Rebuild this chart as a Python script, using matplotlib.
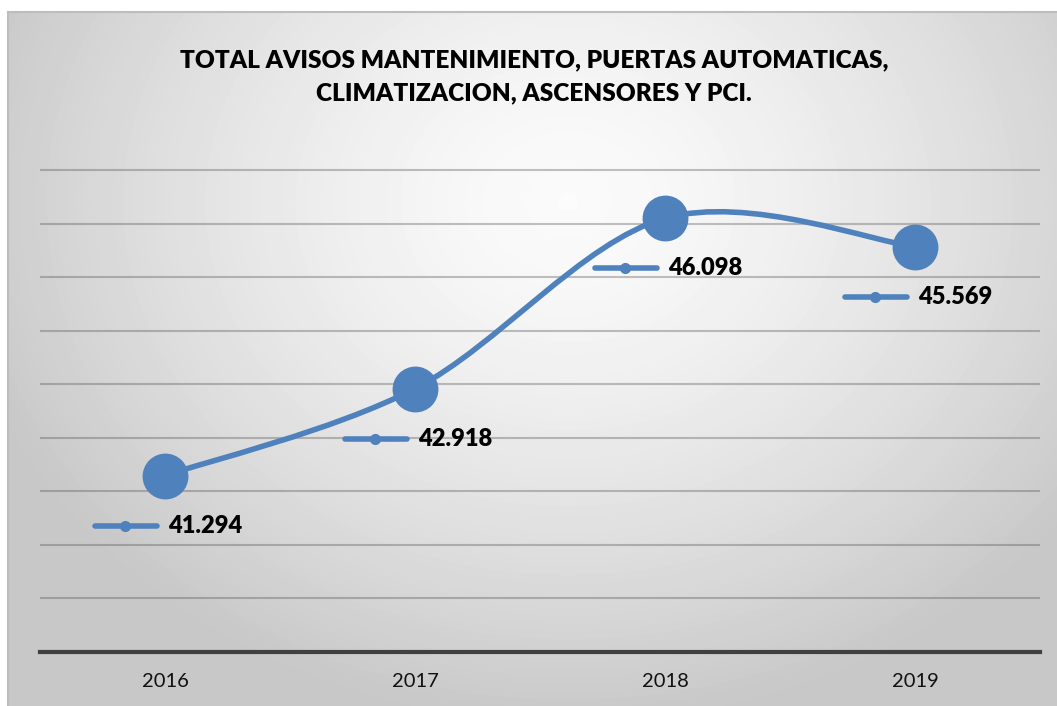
import matplotlib
matplotlib.use("Agg")
import matplotlib.pyplot as plt
import matplotlib.transforms as mtransforms
from matplotlib.path import Path
from matplotlib.patches import PathPatch
import numpy as np

plt.rcParams["font.family"] = ["Lato", "DejaVu Sans"]

# Chart data
YEARS = ["2016", "2017", "2018", "2019"]
AVISOS = [41294, 42918, 46098, 45569]
VALUE_LABELS = ["41.294", "42.918", "46.098", "45.569"]
TITLE = "TOTAL AVISOS MANTENIMIENTO, PUERTAS AUTOMATICAS,\nCLIMATIZACION, ASCENSORES Y PCI."
Y_MIN, Y_MAX, Y_STEP = 38000, 47000, 1000

BLUE = "#4f81bd"
W, H = 1057, 706


def smooth_path(xs, ys):
    """Excel-like smoothed line: one cubic Bezier per segment."""
    pts = list(zip(xs, ys))
    ext = [pts[0]] + pts + [pts[-1]]
    verts = [pts[0]]
    codes = [Path.MOVETO]
    for i in range(1, len(ext) - 2):
        p0, p1, p2, p3 = ext[i - 1], ext[i], ext[i + 1], ext[i + 2]
        c1 = (p1[0] + (p2[0] - p0[0]) / 6, p1[1] + (p2[1] - p0[1]) / 6)
        c2 = (p2[0] - (p3[0] - p1[0]) / 6, p2[1] - (p3[1] - p1[1]) / 6)
        verts += [c1, c2, p2]
        codes += [Path.CURVE4] * 3
    return Path(verts, codes)


fig = plt.figure(figsize=(W / 100, H / 100), dpi=100)
fig.patch.set_facecolor("white")

# Chart area with soft radial gradient
bg = fig.add_axes([8 / W, 0, 1 - 8 / W, (H - 12) / H])
gh, gw = 694, 1049
yy, xx = np.mgrid[0:gh, 0:gw]
r = np.hypot((xx - 560) / 620, (yy - 190) / 520)
shade = 0.985 - 0.20 * np.clip(r, 0, 1) ** 1.4
bg.imshow(shade, cmap="gray", vmin=0, vmax=1, aspect="auto",
          extent=(0, 1, 0, 1), interpolation="bilinear")
bg.set_xticks([])
bg.set_yticks([])
for side in ("right", "bottom"):
    bg.spines[side].set_visible(False)
for side in ("top", "left"):
    bg.spines[side].set_color("#bdbdbd")
    bg.spines[side].set_linewidth(1.5)

# Plot area
top_px = 170 - 0.1 * 53.55
ax = fig.add_axes([40 / W, (H - 652) / H, 1000 / W, (652 - top_px) / H])
ax.set_facecolor("none")
x = np.arange(len(YEARS))
ax.set_xlim(-0.5, len(YEARS) - 0.5)
ax.set_ylim(Y_MIN, Y_MAX + 0.1 * Y_STEP)
ax.set_yticks(np.arange(Y_MIN, Y_MAX + 1, Y_STEP))
ax.set_yticklabels([])
ax.yaxis.grid(True, color="#505050", alpha=0.35, linewidth=1.5)
ax.set_axisbelow(True)
ax.set_xticks(x)
ax.set_xticklabels(YEARS, fontsize=14.5, color="#111111")
ax.tick_params(axis="both", length=0)
ax.tick_params(axis="x", pad=15)
for side in ("top", "right", "left"):
    ax.spines[side].set_visible(False)
ax.spines["bottom"].set_color("#404040")
ax.spines["bottom"].set_linewidth(3)

# Smoothed series line with large markers
ax.add_patch(PathPatch(smooth_path(x, AVISOS), facecolor="none", edgecolor=BLUE,
                       linewidth=4, capstyle="round", zorder=3))
ax.plot(x, AVISOS, linestyle="none", marker="o", markersize=32,
        color=BLUE, zorder=4)

# Data labels with legend key, placed below each point
for xi, yi, lab in zip(x, AVISOS, VALUE_LABELS):
    trans = mtransforms.IdentityTransform() + mtransforms.ScaledTranslation(xi, yi, ax.transData)
    ax.plot([-70, -8], [-50, -50], transform=trans, color=BLUE, linewidth=4,
            solid_capstyle="round", zorder=5, clip_on=False)
    ax.plot([-40], [-50], transform=trans, marker="o", markersize=7,
            color=BLUE, zorder=5, clip_on=False)
    ax.annotate(lab, xy=(xi, yi), xytext=(3, -50), textcoords="offset pixels",
                ha="left", va="center", fontsize=17, fontweight="heavy",
                color="black", zorder=6)

fig.text(534 / W, 1 - 77 / H, TITLE, ha="center", va="center",
         fontsize=17.6, fontweight="heavy", color="black", linespacing=1.6)

fig.savefig("out.png", dpi=100)
